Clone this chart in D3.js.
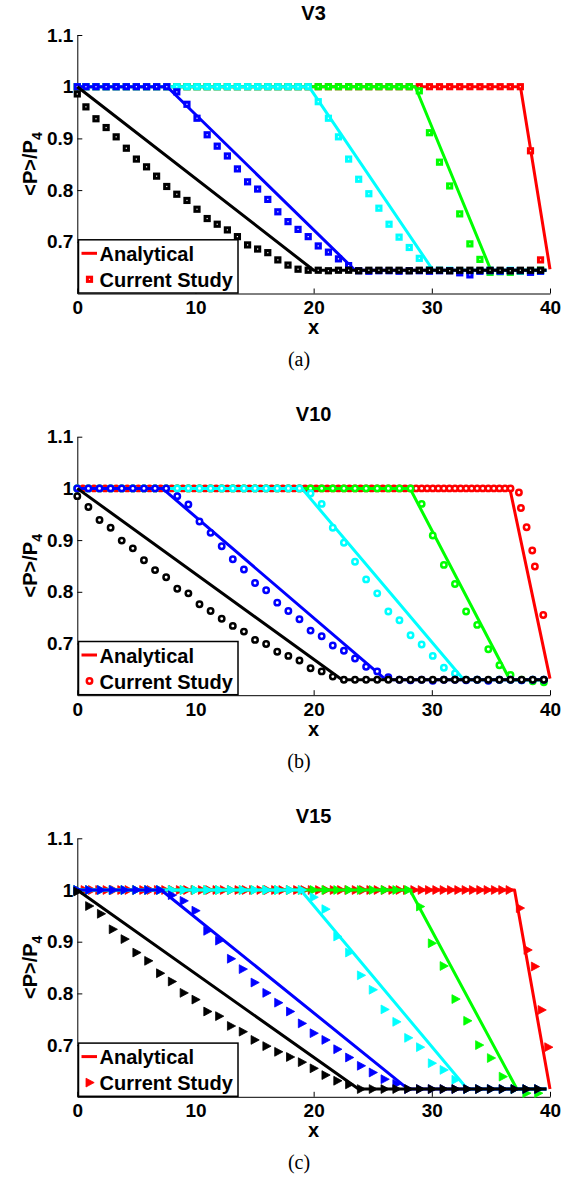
<!DOCTYPE html>
<html><head><meta charset="utf-8">
<script src="https://cdn.jsdelivr.net/npm/d3@7"></script>
<style>body{margin:0;background:#fff}</style>
</head><body><svg id="c" width="577" height="1178"></svg>
<script>
// ---------- shared ----------
const xTicks=[0,10,20,30,40];
const yTicks=[0.7,0.8,0.9,1,1.1];
const titles=["V3","V10","V15"];
const captions=["(a)","(b)","(c)"];
const legendLabels=["Analytical","Current Study"];
const seriesOrder=["red","green","cyan","blue","black"];
const colors={red:"#ff0000",green:"#00ff00",cyan:"#00ffff",blue:"#0000ff",black:"#000000"};

// ---------- panel (a) V3 ----------
const aX=[0,0.73,1.58,2.44,3.29,4.15,5.0,5.86,6.71,7.57,8.42,9.28,10.13,10.99,11.84,12.7,13.55,14.41,15.26,16.12,16.97,17.83,18.68,19.54,20.39,21.25,22.1,22.96,23.81,24.67,25.52,26.38,27.23,28.09,28.94,29.8,30.65,31.51,32.36,33.22,34.07,34.93,35.78,36.64,37.49,38.35,39.2];
const aBlack=[0.986,0.961,0.938,0.921,0.903,0.881,0.860,0.845,0.827,0.807,
0.792,0.780,0.763,0.745,0.734,0.723,0.710,0.694,0.686,0.679,
0.665,0.655,0.647,0.645,0.645,0.644,0.645,0.645,0.644,0.645,
0.645,0.645,0.645,0.644,0.645,0.645,0.645,0.644,0.645,0.645,
0.645,0.645,0.645,0.644,0.645,0.645,0.645];
const aBlue=[1,1,1,1,1,1,1,1,1,1,
0.990,0.966,0.939,0.907,0.885,0.866,0.841,0.816,0.802,0.782,
0.758,0.739,0.724,0.710,0.692,0.680,0.667,0.654,0.644,0.643,
0.644,0.644,0.643,0.644,0.644,0.643,0.644,0.644,0.640,0.636,
0.643,0.644,0.643,0.644,0.644,0.641,0.643];
const aCyan=[1,1,1,1,1,1,1,1,1,1,
1,1,1,1,1,1,1,1,1,1,
1,1,1,1,0.971,0.939,0.903,0.860,0.821,0.793,
0.765,0.734,0.709,0.689,0.668,0.646,0.645,0.645,0.644,0.642,
0.644,0.645,0.643,0.645,0.644,0.642,0.643];
const aGreen=[1,1,1,1,1,1,1,1,1,1,
1,1,1,1,1,1,1,1,1,1,
1,1,1,1,1,1,1,1,1,1,
1,1,1,1,0.992,0.911,0.854,0.808,0.754,0.696,
0.666,0.641,0.642,0.641,0.643,0.644,0.645];
const aRed=[1,1,1,1,1,1,1,1,1,1,
1,1,1,1,1,1,1,1,1,1,
1,1,1,1,1,1,1,1,1,1,
1,1,1,1,1,1,1,1,1,1,
1,1,1,1,1,0.876,0.665];
const aLines={
  red:[[0,1],[37.5,1],[40,0.647]],
  green:[[0,1],[28.6,1],[35.0,0.645],[39.7,0.645]],
  cyan:[[0,1],[19.6,1],[30.1,0.645],[39.7,0.645]],
  blue:[[0,1],[7.6,1],[23.5,0.645],[39.7,0.645]],
  black:[[0,1],[20.0,0.645],[39.7,0.645]]
};

// ---------- panel (b) V10 ----------
const bX=[0,0.94,1.88,2.82,3.76,4.7,5.64,6.58,7.52,8.46,9.4,10.34,11.28,12.22,13.16,14.1,15.04,15.98,16.92,17.86,18.8,19.74,20.68,21.62,22.56,23.5,24.44,25.38,26.32,27.26,28.2,29.14,30.08,31.02,31.96,32.9,33.84,34.78,35.72,36.66,37.6,38.54,39.48];
const bBlack=[0.985,0.964,0.939,0.924,0.899,0.884,0.861,0.842,0.828,0.806,
0.797,0.776,0.763,0.748,0.734,0.723,0.707,0.699,0.684,0.676,
0.667,0.652,0.646,0.636,0.630,0.630,0.630,0.630,0.630,0.630,
0.630,0.630,0.630,0.630,0.630,0.630,0.630,0.630,0.630,0.630,
0.630,0.630,0.630];
const bBlue=[1,1,1,1,1,1,1,1,1,0.985,
0.969,0.936,0.914,0.888,0.863,0.843,0.817,0.803,0.779,0.763,
0.747,0.725,0.714,0.696,0.686,0.671,0.655,0.646,0.635,0.630,
0.629,0.630,0.628,0.630,0.630,0.629,0.630,0.628,0.630,0.630,
0.629,0.630,0.630];
const bCyan=[1,1,1,1,1,1,1,1,1,1,
1,1,1,1,1,1,1,1,1,1,
1,0.990,0.970,0.924,0.895,0.858,0.824,0.797,0.762,0.745,
0.716,0.698,0.676,0.653,0.642,0.630,0.630,0.629,0.630,0.630,
0.629,0.630,0.630];
const bGreen=[1,1,1,1,1,1,1,1,1,1,
1,1,1,1,1,1,1,1,1,1,
1,1,1,1,1,1,1,1,1,1,
1,0.970,0.909,0.852,0.815,0.762,0.736,0.689,0.658,0.639,
0.630,0.627,0.625];
const bRedX=[0,0.47,0.94,1.41,1.88,2.35,2.82,3.29,3.76,4.23,
4.7,5.17,5.64,6.11,6.58,7.05,7.52,7.99,8.46,8.93,
9.4,9.87,10.34,10.81,11.28,11.75,12.22,12.69,13.16,13.63,
14.1,14.57,15.04,15.51,15.98,16.45,16.92,17.39,17.86,18.33,
18.8,19.27,19.74,20.21,20.68,21.15,21.62,22.09,22.56,23.03,
23.5,23.97,24.44,24.91,25.38,25.85,26.32,26.79,27.26,27.73,
28.2,28.67,29.14,29.61,30.08,30.55,31.02,31.49,31.96,32.43,
32.9,33.37,33.84,34.31,34.78,35.25,35.72,36.19,36.66,
37.37,37.54,38.02,38.5,38.72,39.43];
const bRed=[1,1,1,1,1,1,1,1,1,1,
1,1,1,1,1,1,1,1,1,1,
1,1,1,1,1,1,1,1,1,1,
1,1,1,1,1,1,1,1,1,1,
1,1,1,1,1,1,1,1,1,1,
1,1,1,1,1,1,1,1,1,1,
1,1,1,1,1,1,1,1,1,1,
1,1,1,1,1,1,1,1,1,
0.992,0.962,0.925,0.880,0.849,0.755];
const bLines={
  red:[[0,1],[36.6,1],[40,0.632]],
  green:[[0,1],[28.15,1],[36.6,0.63],[39.8,0.63]],
  cyan:[[0,1],[19.0,1],[32.7,0.63],[39.8,0.63]],
  blue:[[0,1],[7.2,1],[26.1,0.63],[39.8,0.63]],
  black:[[0,1],[22.4,0.63],[39.8,0.63]]
};

// ---------- panel (c) V15 ----------
const cX=[0,1,2,3,4,5,6,7,8,9,10,11,12,13,14,15,16,17,18,19,20,21,22,23,24,25,26,27,28,29,30,31,32,33,34,35,36,37,38,39];
const cBlack=[0.997,0.969,0.954,0.924,0.905,0.879,0.863,0.839,0.823,0.801,
0.788,0.765,0.756,0.737,0.726,0.710,0.698,0.687,0.677,0.667,
0.655,0.642,0.631,0.624,0.615,0.615,0.615,0.615,0.615,0.615,
0.615,0.615,0.615,0.615,0.615,0.615,0.615,0.615,0.615,0.615];
const cBlue=[1,1,1,1,1,1,1,1,0.990,0.979,
0.960,0.921,0.902,0.867,0.847,0.821,0.801,0.782,0.765,0.742,
0.723,0.710,0.692,0.676,0.660,0.647,0.634,0.625,0.615,0.615,
0.615,0.615,0.615,0.615,0.615,0.615,0.615,0.615,0.615,0.615];
const cCyan=[1,1,1,1,1,1,1,1,1,1,
1,1,1,1,1,1,1,1,1,1,
0.986,0.963,0.910,0.879,0.835,0.807,0.769,0.745,0.714,0.696,
0.665,0.652,0.633,0.615,0.615,0.615,0.615,0.615,0.615,0.615];
const cGreen=[1,1,1,1,1,1,1,1,1,1,
1,1,1,1,1,1,1,1,1,1,
1,1,1,1,1,1,1,1,1,0.968,
0.897,0.853,0.789,0.747,0.700,0.675,0.639,0.615,0.607,0.607];
const cRedX=[0,0.62,1.24,1.86,2.48,3.1,3.72,4.34,4.96,5.58,
6.2,6.82,7.44,8.06,8.68,9.3,9.92,10.54,11.16,11.78,
12.4,13.02,13.64,14.26,14.88,15.5,16.12,16.74,17.36,17.98,
18.6,19.22,19.84,20.46,21.08,21.7,22.32,22.94,23.56,24.18,
24.8,25.42,26.04,26.66,27.28,27.9,28.52,29.14,29.76,30.38,
31.0,31.62,32.24,32.86,33.48,34.1,34.72,35.34,35.96,36.58,
37.45,38.1,38.72,39.29,39.85];
const cRed=[1,1,1,1,1,1,1,1,1,1,
1,1,1,1,1,1,1,1,1,1,
1,1,1,1,1,1,1,1,1,1,
1,1,1,1,1,1,1,1,1,1,
1,1,1,1,1,1,1,1,1,1,
1,1,1,1,1,1,1,1,1,1,
0.965,0.884,0.852,0.768,0.696];
const cLines={
  red:[[0,1],[37.0,1],[40,0.615]],
  green:[[0,1],[28.15,1],[37.2,0.615],[39.7,0.615]],
  cyan:[[0,1],[18.9,1],[33.0,0.615],[39.7,0.615]],
  blue:[[0,1],[7.1,1],[28.0,0.615],[39.7,0.615]],
  black:[[0,1],[23.8,0.615],[39.7,0.615]]
};

const panels=[
 {marker:"square", xs:{red:aX,green:aX,cyan:aX,blue:aX,black:aX},
  ys:{red:aRed,green:aGreen,cyan:aCyan,blue:aBlue,black:aBlack}, lines:aLines},
 {marker:"circle", xs:{red:bRedX,green:bX,cyan:bX,blue:bX,black:bX},
  ys:{red:bRed,green:bGreen,cyan:bCyan,blue:bBlue,black:bBlack}, lines:bLines},
 {marker:"triangle", xs:{red:cRedX,green:cX,cyan:cX,blue:cX,black:cX},
  ys:{red:cRed,green:cGreen,cyan:cCyan,blue:cBlue,black:cBlack}, lines:cLines}
];

// ---------- drawing ----------
const svg=d3.select("#c");
svg.append("rect").attr("width",577).attr("height",1178).attr("fill","#fff");
const FONT="'Liberation Sans', Arial, Helvetica, sans-serif";
const SERIF="'Liberation Serif', 'Times New Roman', serif";
const offsets=[0,401.7,803.3];

function drawMarker(sel,type,cx,cy,color){
  if(type==="square"){
    sel.append("rect").attr("x",cx-2.1).attr("y",cy-2.1).attr("width",4.2).attr("height",4.2)
      .attr("fill","#fff").attr("stroke",color).attr("stroke-width",3.0);
  } else if(type==="circle"){
    sel.append("circle").attr("cx",cx).attr("cy",cy).attr("r",2.7)
      .attr("fill","#fff").attr("stroke",color).attr("stroke-width",2.5);
  } else {
    sel.append("path").attr("d",`M${cx-3.5},${cy-4.4}L${cx+4.7},${cy}L${cx-3.5},${cy+4.4}Z`)
      .attr("fill",color).attr("stroke",color).attr("stroke-width",0.8);
  }
}

panels.forEach((p,i)=>{
  const off=offsets[i];
  const x=d3.scaleLinear().domain([0,40]).range([77.3,550]);
  const y=d3.scaleLinear().domain([0.6,1.1]).range([293.5+off,35+off]);
  const g=svg.append("g");

  const ax=g.append("g").attr("transform",`translate(0,${y(0.6)})`)
    .call(d3.axisBottom(x).tickValues(xTicks).tickSize(-5).tickSizeOuter(0).tickPadding(7).tickFormat(d3.format("d")));
  const ay=g.append("g").attr("transform",`translate(${x(0)},0)`)
    .call(d3.axisLeft(y).tickValues(yTicks).tickSize(-5).tickSizeOuter(0).tickPadding(4).tickFormat(d3.format("~g")));
  [ax,ay].forEach(a=>{
    a.selectAll("text").attr("font-family",FONT).attr("font-weight","bold").attr("font-size",19).attr("fill","#000");
    a.selectAll("line,path").attr("stroke","#000").attr("stroke-width",1);
  });

  const line=d3.line().x(d=>x(d[0])).y(d=>y(d[1]));
  const dg=g.append("g");
  seriesOrder.forEach(s=>{
    dg.append("path").attr("d",line(p.lines[s])).attr("fill","none")
      .attr("stroke",colors[s]).attr("stroke-width",3).attr("stroke-linejoin","round");
    const xs=p.xs[s], ys=p.ys[s];
    const mg=dg.append("g");
    xs.forEach((xv,k)=>drawMarker(mg,p.marker,x(xv),y(ys[k]),colors[s]));
  });

  // title, axis labels, caption
  g.append("text").attr("x",313.6).attr("y",19.5+off).attr("text-anchor","middle")
    .attr("font-family",FONT).attr("font-weight","bold").attr("font-size",20).text(titles[i]);
  g.append("text").attr("x",313.6).attr("y",334+off).attr("text-anchor","middle")
    .attr("font-family",FONT).attr("font-weight","bold").attr("font-size",20).text("x");
  const yl=g.append("text").attr("transform",`translate(37,${164+off}) rotate(-90)`).attr("text-anchor","middle")
    .attr("font-family",FONT).attr("font-weight","bold").attr("font-size",20);
  yl.append("tspan").text("<P>/P");
  yl.append("tspan").attr("dy",5).attr("font-size",14).text("4");
  g.append("text").attr("x",299).attr("y",366+off).attr("text-anchor","middle")
    .attr("font-family",SERIF).attr("font-size",20).text(captions[i]);

  // legend
  const lt=y(0.7)-2, lb=y(0.6)-0.5, lx0=78.5, lx1=238;
  const lg=g.append("g");
  lg.append("rect").attr("x",lx0).attr("y",lt).attr("width",lx1-lx0).attr("height",lb-lt)
    .attr("fill","#fff").attr("stroke","#000").attr("stroke-width",1.5);
  lg.append("line").attr("x1",81.5).attr("x2",97).attr("y1",lt+13.5).attr("y2",lt+13.5)
    .attr("stroke",colors.red).attr("stroke-width",3);
  lg.append("text").attr("x",99.5).attr("y",lt+21).attr("font-family",FONT).attr("font-weight","bold")
    .attr("font-size",20).text(legendLabels[0]);
  drawMarker(lg,p.marker,89.5,lt+39.5,colors.red);
  lg.append("text").attr("x",99.5).attr("y",lt+47).attr("font-family",FONT).attr("font-weight","bold")
    .attr("font-size",20).text(legendLabels[1]);
});
</script>
</body></html>
